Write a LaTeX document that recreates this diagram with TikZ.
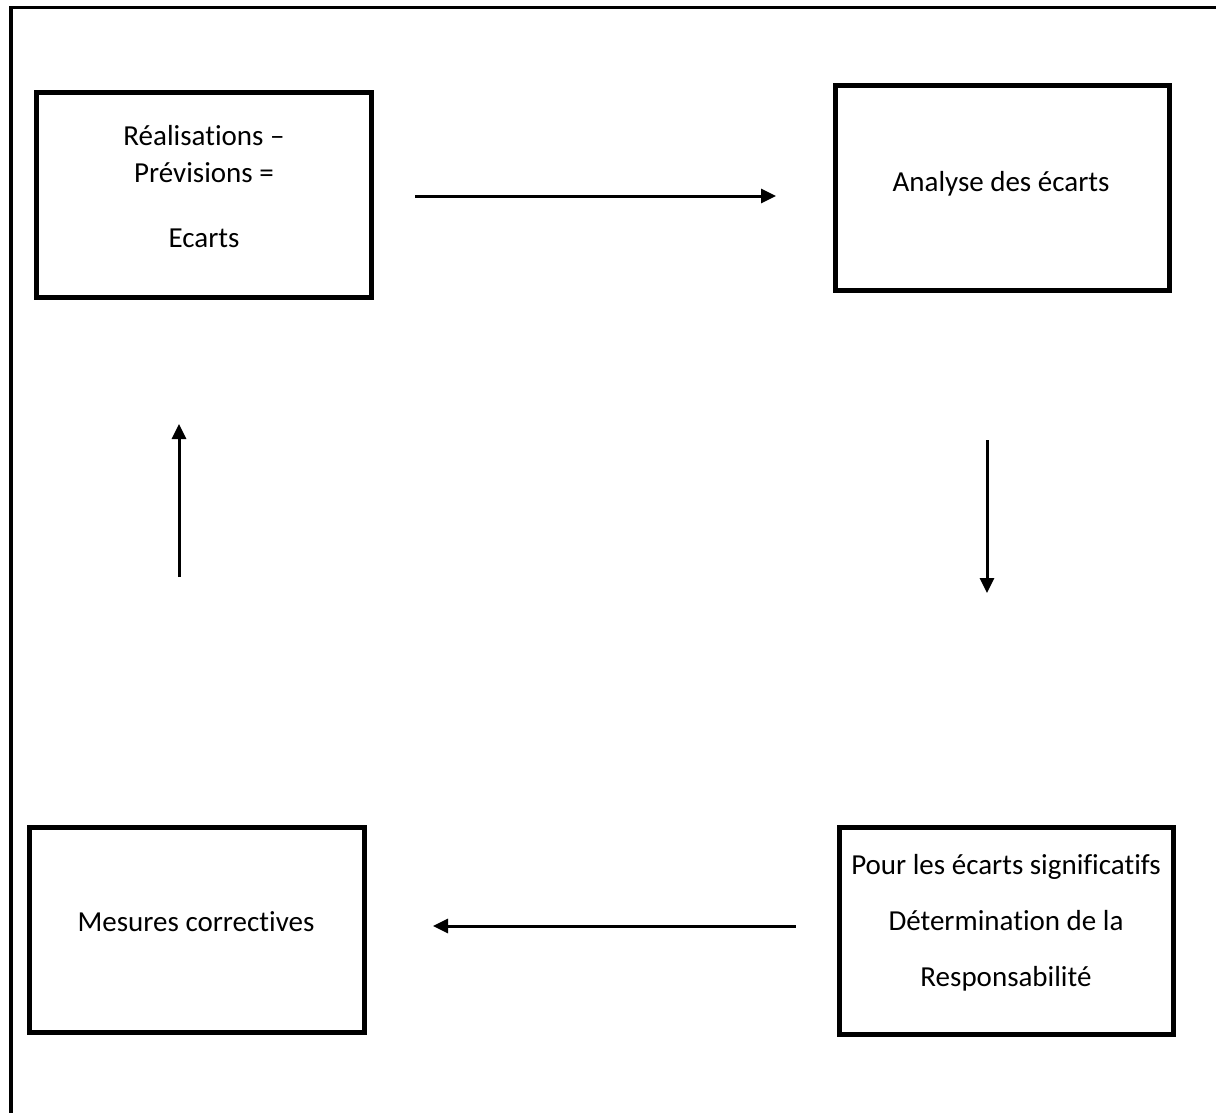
\documentclass[tikz,border=0pt]{standalone}
\usepackage{fontspec}
\setmainfont{Carlito}[Ligatures=NoCommon]
\usepackage{tikz}
\usetikzlibrary{positioning,arrows.meta,calc}

\begin{document}
\begin{tikzpicture}[
      x=1pt, y=-1pt,
      font=\fontsize{29}{37}\selectfont,
      every node/.style={align=center},
      box/.style={draw, line width=5pt, outer sep=0pt, inner sep=0pt},
      txt/.style={inner sep=0pt, anchor=base},
      flow/.style={-{Triangle[length=15pt, width=14pt]}, line width=3pt},
  ]
  \useasboundingbox (0,0) rectangle (1216,1113);

  % Page frame (only top and left sides show)
  \draw[line width=3.5pt] (1216,7.6) -- (11,7.6) -- (11,1113);

  % Boxes
  \node[box, minimum width=335, minimum height=205] (real) at ( 204, 195) {};
  \node[box, minimum width=334, minimum height=205] (anal) at (1002.5, 188) {};
  \node[box, minimum width=334, minimum height=207] (resp) at (1006, 931) {};
  \node[box, minimum width=335, minimum height=205] (mes)  at ( 197, 930) {};

  % Box texts (base = last line)
  \node[txt] (realtxt) at ( 204, 247) {Réalisations –\\Prévisions =\\[28pt]Ecarts};
  \node[txt] (analtxt) at (1001, 191) {Analyse des écarts};
  \node[txt, font=\fontsize{29}{56}\selectfont] (resptxt) at (1006, 986)
        {Pour les écarts significatifs\\Détermination de la\\Responsabilité};
  \node[txt] (mestxt)  at ( 196, 931) {Mesures correctives};

  % Cycle arrows
  \draw[flow, shorten <=43.5pt, shorten >=59.5pt]
    ([yshift=-1pt]real.east) -- ([yshift=-1pt]real.east -| anal.west);
  \draw[flow, shorten <=149.5pt, shorten >=234.5pt]
    ([xshift=-15.5pt]anal.south) -- ([xshift=-15.5pt]anal.south |- resp.north);
  \draw[flow, shorten <=43.5pt, shorten >=68.5pt]
    ([yshift=5pt]resp.west) -- ([yshift=5pt]resp.west -| mes.east);
  \draw[flow, shorten <=250.5pt, shorten >=126.5pt]
    ([xshift=-18pt]mes.north) -- ([xshift=-18pt]mes.north |- real.south);

\end{tikzpicture}
\end{document}
